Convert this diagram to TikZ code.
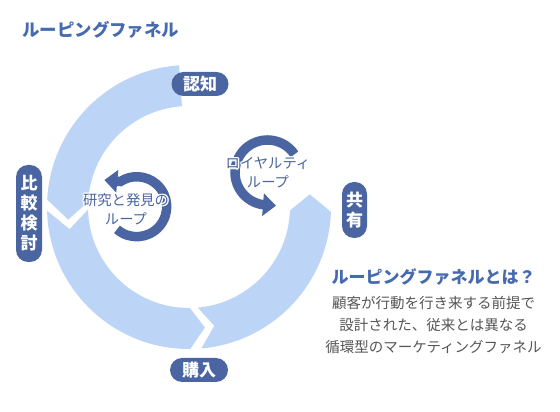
\documentclass[tikz,border=0pt]{standalone}
\usepackage{fontspec}
\setmainfont{Noto Sans CJK JP}
\usepackage[copies]{contour}
\contourlength{1.3pt}
\contournumber{8}
\usetikzlibrary{arrows.meta}
\definecolor{ringblue}{RGB}{188,213,247}
\definecolor{pillblue}{RGB}{74,101,161}
\definecolor{headblue}{RGB}{70,106,176}
\definecolor{bodygray}{RGB}{85,85,85}
\newcommand{\halo}[1]{\contour{white}{#1}}

\begin{document}
\begin{tikzpicture}[x=1pt,y=1pt]
	\tikzstyle{Segment}=[fill=ringblue]
	\tikzstyle{Stage}=[fill=pillblue,text=white,font=\fontsize{17}{20}\selectfont\bfseries,rounded corners=12pt,inner sep=0pt,align=center]
	\tikzstyle{Loop}=[pillblue,line width=9.5pt,-{Triangle[width=22pt,length=13pt]}]
	\tikzstyle{LoopText}=[text=pillblue,font=\fontsize{14.3}{19}\selectfont,align=center]
	\useasboundingbox (0,0) rectangle (560,412);
	% the big ring: three arrow pieces
	\begin{scope}[shift={(189,205)}]
	\fill[Segment] (94:142) arc[start angle=94,end angle=177,radius=142] -- (186:121.5) -- (177:101) arc[start angle=177,end angle=94,radius=101] -- cycle;
	\fill[Segment] (181.5:142) arc[start angle=181.5,end angle=270.5,radius=142] -- (277.5:121.5) -- (270.5:101) arc[start angle=270.5,end angle=181.5,radius=101] -- (190.5:121.5) -- cycle;
	\fill[Segment] (275:142) arc[start angle=275,end angle=358,radius=142] -- (366:121.5) -- (358:101) arc[start angle=358,end angle=275,radius=101] -- (282:121.5) -- cycle;
	\end{scope}
	% small loops
	\draw[Loop] (136.7,205.3) ++(229:30) arc[start angle=229,end angle=483,radius=30] -- ++(-16,1.5);
	\draw[Loop] (267.5,239.5) ++(34:32.5) arc[start angle=34,end angle=262,radius=32.5] -- ++(13,-1);
	\node[LoopText] (research) at (126,202) {\halo{研究と発見の}\\\halo{ループ}};
	\node[LoopText] (loyalty) at (268,238.5) {\halo{ロイヤルティ}\\\halo{ループ}};
	% stages
	\node[Stage,minimum width=57pt,minimum height=24pt] (ninchi) at (200,328) {認知};
	\node[Stage,minimum width=26pt,minimum height=97pt] (hikaku) at (29,198.5) {比\\較\\検\\討};
	\node[Stage,minimum width=58pt,minimum height=24pt] (konyu) at (199,42) {購入};
	\node[Stage,minimum width=25pt,minimum height=56pt] (kyoyu) at (354.5,202) {共\\有};
	% texts
	\node[anchor=west,text=headblue,font=\fontsize{17.4}{20}\selectfont\bfseries] (title) at (19,382) {ルーピングファネル};
	\node[text=headblue,font=\fontsize{17}{20}\selectfont\bfseries] (whatis) at (433.5,135) {ルーピングファネルとは？};
	\node[text=bodygray,font=\fontsize{14.5}{22}\selectfont,align=center] (desc) at (433.5,87) {顧客が行動を行き来する前提で\\設計された、従来とは異なる\\循環型のマーケティングファネル};
\end{tikzpicture}
\end{document}
